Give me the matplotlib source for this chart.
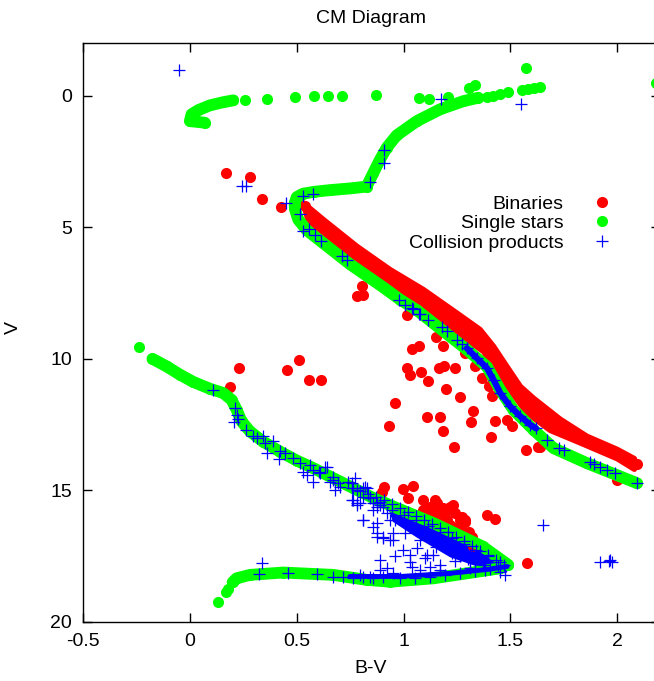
import matplotlib
matplotlib.use("Agg")
import matplotlib.pyplot as plt
from matplotlib.lines import Line2D

plt.rcParams['font.family'] = ['Liberation Sans', 'DejaVu Sans']

RED = '#ff0000'
GREEN = '#00ff00'
BLUE = '#0000ff'

# ---- single stars: dense tracks (band vertices) ----
hook_bv = [0.07, 0.0, 0.008, 0.04, 0.094, 0.156, 0.203]
hook_v = [1.02, 0.96, 0.7, 0.54, 0.36, 0.24, 0.17]

rgb_bv = [1.35, 1.28, 1.171, 1.062, 0.968, 0.921, 0.89, 0.859, 0.827, 0.75, 0.66, 0.58,
          0.53, 0.50, 0.49, 0.492, 0.507, 0.546, 0.624, 0.749, 0.905, 0.984, 1.062,
          1.14, 1.296, 1.39, 1.452, 1.514, 1.608, 1.702, 1.858, 2.092]
rgb_v = [0.07, 0.2, 0.51, 0.96, 1.5, 1.97, 2.42, 2.92, 3.45, 3.52, 3.58, 3.65,
         3.72, 3.85, 4.1, 4.32, 4.7, 5.1, 5.6, 6.4, 7.28, 7.75, 8.15,
         8.65, 9.65, 10.3, 11.18, 11.94, 12.7, 13.4, 13.97, 14.73]

lowms_bv = [-0.175, -0.109, -0.047, 0.016, 0.094, 0.156, 0.195, 0.219, 0.242, 0.281,
            0.343, 0.422, 0.5, 0.578, 0.671, 0.765, 0.859, 0.952, 1.14, 1.37, 1.49]
lowms_v = [10.0, 10.29, 10.6, 10.88, 11.14, 11.3, 11.56, 11.94, 12.38, 12.76,
           13.15, 13.53, 13.87, 14.16, 14.54, 14.92, 15.3, 15.62, 16.25, 17.14, 17.84]

bot_bv = [0.2, 0.219, 0.281, 0.437, 0.671, 0.828, 0.937, 1.14, 1.296, 1.452]
bot_v = [18.5, 18.35, 18.22, 18.13, 18.22, 18.41, 18.48, 18.35, 18.16, 17.97]

# ---- single stars: separate dots ----
single_bv = [-0.239, 0.133, 0.169, 0.18, 0.258, 0.362, 0.492, 0.581, 0.648, 0.712, 0.871,
             1.073, 1.12, 1.208, 1.304, 1.332, 1.39, 1.42, 1.45, 1.49, 1.555, 1.58,
             1.61, 1.64, 1.574, 2.18]
single_v = [9.55, 19.26, 18.86, 18.75, 0.17, 0.11, 0.03, 0.0, 0.0, -0.01, -0.02,
            0.08, 0.11, 0.03, -0.31, -0.4, 0.03, 0.0, -0.06, -0.13, -0.22, -0.27,
            -0.3, -0.33, -1.05, -0.5]

# ---- binaries: dense band (upper and lower edge) ----
redtop_bv = [0.531, 0.624, 0.781, 0.937, 1.093, 1.249, 1.358, 1.421, 1.483, 1.546,
             1.608, 1.733, 1.858, 2.0, 2.08]
redtop_v = [4.07, 4.7, 5.72, 6.61, 7.37, 8.26, 8.89, 9.53, 10.29, 11.05,
            11.5, 12.3, 12.95, 13.45, 13.8]
redbot_bv = [0.539, 0.562, 0.703, 0.859, 1.015, 1.171, 1.296, 1.374, 1.436, 1.499,
             1.577, 1.686, 1.842, 2.0, 2.08]
redbot_v = [4.3, 5.0, 5.9, 6.8, 7.68, 8.56, 9.28, 9.72, 10.45, 11.2,
            12.06, 12.72, 13.25, 13.8, 14.2]

# ---- binaries: separate dots ----
bin_bv = [0.54, 2.09, 0.169, 0.281, 0.339, 0.425, 0.804, 0.784, 0.812, 1.018, 1.152,
          1.038, 1.073, 1.186, 0.231, 0.187, 0.511, 0.453, 0.557, 0.612, 1.015, 1.03,
          1.082, 1.113, 1.168, 1.191, 1.198, 1.241, 1.288, 1.335, 1.366, 1.262, 1.402,
          1.413, 1.327, 1.111, 1.171, 1.315, 1.184, 1.429, 1.483, 1.506, 1.408, 1.237,
          1.574, 1.628, 1.64, 0.962, 0.933, 2.0,
          0.909, 0.898, 0.999, 1.046, 1.022, 1.093, 1.148,
          1.093, 1.124, 1.156, 1.186, 1.21, 1.233, 1.241, 1.273, 1.288, 1.202, 1.171,
          1.14, 1.218, 1.257, 1.304, 1.319, 1.241, 1.327, 1.124, 1.156, 1.186, 1.218,
          1.265, 1.288, 1.249, 1.28, 1.304, 1.39, 1.429, 1.577, 1.467, 1.327]
bin_v = [4.2, 14.0, 2.93, 3.08, 3.94, 4.23, 7.24, 7.6, 7.56, 8.35, 9.17,
         9.62, 9.53, 9.53, 10.35, 11.07, 10.06, 10.41, 10.82, 10.82, 10.35, 10.61,
         10.52, 10.83, 10.35, 10.29, 11.15, 10.35, 9.78, 10.26, 10.73, 11.45, 11.05,
         11.43, 12.0, 12.22, 12.22, 12.42, 12.74, 12.35, 12.32, 12.55, 12.98, 13.36,
         13.46, 13.34, 13.34, 11.68, 12.54, 14.6,
         14.86, 15.05, 14.95, 14.83, 15.3, 15.39, 15.39,
         15.75, 15.81, 15.75, 15.81, 15.75, 15.56, 15.87, 16.0, 16.15, 16.13, 16.0,
         15.94, 16.32, 16.38, 16.57, 16.79, 16.51, 17.08, 15.62, 15.49, 15.68, 15.62,
         16.13, 16.19, 16.44, 16.57, 16.7, 15.94, 16.1, 17.75, 17.85, 17.14]

# ---- collision products: dense bands ----
cband_bv = [1.296, 1.343, 1.39, 1.421, 1.452, 1.499, 1.546, 1.593, 1.62]
cband_v = [9.6, 9.98, 10.35, 10.8, 11.3, 11.81, 12.19, 12.51, 12.65]

cbot_bv = [0.749, 0.984, 1.218, 1.405, 1.485]
cbot_v = [18.28, 18.28, 18.16, 18.0, 17.9]

# solid core of the collision-product wedge (outline)
core_bv = [0.92, 1.062, 1.218, 1.372, 1.485, 1.485, 1.372, 1.218, 1.062, 0.95]
core_v = [15.5, 15.86, 16.43, 17.08, 17.69, 18.12, 17.98, 17.55, 16.8, 16.2]

# ---- collision products: separate points ----
coll_bv = [-0.05, 1.175, 1.549, 0.91, 0.91, 0.843, 0.242, 0.262, 0.45,
           0.531, 0.578, 0.515, 0.531, 0.559, 0.585, 0.612, 0.71, 0.737, 0.98, 1.007,
           1.038, 1.074, 1.116, 1.179, 1.202, 1.046, 1.077, 1.249, 1.273,
           1.671, 1.725, 1.749, 1.874, 1.889, 1.92, 1.952, 1.991, 2.092, 1.652,
           1.92, 1.96, 1.967, 1.975,
           0.109, 0.211, 0.219, 0.226, 0.206, 0.265, 0.296, 0.312, 0.343, 0.387, 0.351,
           0.359, 0.422, 0.445, 0.418, 0.484, 0.515, 0.528, 0.562, 0.578, 0.606, 0.632,
           0.578, 0.671, 0.679, 0.703, 0.741, 0.773, 0.765, 0.757, 0.781, 0.828, 0.812,
           0.843, 0.859, 0.89, 0.874, 0.546, 0.609, 0.64, 0.671, 0.695, 0.656, 0.82,
           0.781, 0.812, 0.859, 0.874, 0.905, 0.937, 0.952,
           0.759, 0.796, 0.834, 0.871, 0.909, 0.946, 0.984, 1.021, 1.059, 1.096, 1.133,
           1.171, 1.208, 1.246, 1.283, 1.321, 1.358, 1.396, 1.433, 1.471,
           0.89, 0.946, 1.002, 1.059, 1.115, 1.171, 1.227, 1.283, 1.34, 1.396, 1.452,
           0.96, 1.03, 1.101, 1.171, 1.241, 1.311, 1.382, 1.443,
           1.007, 1.077, 1.152, 1.227, 1.302, 1.377,
           0.89, 0.96, 1.03, 1.101, 1.171, 1.241, 1.311, 1.382, 1.452, 1.475,
           0.336, 0.325, 0.46, 0.593, 0.671, 0.718, 0.765, 0.812, 0.859, 0.905, 0.984,
           1.054, 1.124, 1.194, 1.265, 1.335, 1.405,
           0.796, 0.843, 0.89, 0.921, 0.952, 1.038, 1.077, 1.124, 1.171,
           0.812, 0.874, 0.874, 0.905, 0.952, 0.999, 1.03, 1.062, 1.109, 1.14, 1.218,
           1.265, 1.311, 1.374,
           0.757, 0.781, 0.812, 0.765, 0.796, 0.843, 0.874, 0.905, 0.859, 0.921, 0.937]
coll_v = [-1.0, 0.1, 0.3, 2.04, 2.57, 3.28, 3.41, 3.41, 4.07,
          3.82, 3.75, 4.51, 5.15, 5.06, 5.31, 5.53, 6.1, 6.23, 7.75, 7.94,
          8.05, 8.3, 8.52, 8.8, 8.96, 8.1, 8.3, 9.3, 9.45,
          13.08, 13.4, 13.46, 13.91, 14.0, 14.1, 14.22, 14.35, 14.73, 16.32,
          17.72, 17.69, 17.65, 17.72,
          11.2, 11.87, 12.13, 12.29, 12.42, 12.7, 12.93, 13.02, 12.93, 13.11, 13.21,
          13.59, 13.49, 13.59, 13.82, 13.78, 13.97, 14.29, 14.03, 14.22, 14.29, 14.1,
          14.67, 14.6, 14.98, 14.86, 14.67, 14.54, 14.92, 15.37, 15.56, 14.92, 15.24,
          15.3, 15.49, 15.43, 15.62, 14.41, 14.35, 14.1, 14.48, 14.73, 14.67, 14.86,
          15.49, 16.13, 16.38, 16.76, 16.83, 16.89, 16.63,
          14.91, 15.02, 15.14, 15.25, 15.36, 15.52, 15.67, 15.82, 15.98, 16.13, 16.28,
          16.43, 16.59, 16.78, 16.93, 17.12, 17.31, 17.46, 17.65, 17.84,
          15.56, 15.75, 15.94, 16.13, 16.36, 16.59, 16.81, 17.04, 17.27, 17.5, 17.72,
          16.13, 16.39, 16.66, 16.93, 17.19, 17.46, 17.69, 17.88,
          16.62, 16.89, 17.16, 17.38, 17.61, 17.84,
          17.65, 17.5, 17.73, 17.57, 17.84, 17.69, 17.96, 18.03, 18.11, 18.22,
          17.78, 18.18, 18.13, 18.18, 18.29, 18.29, 18.35, 18.29, 18.35, 18.29, 18.35,
          18.34, 18.3, 18.22, 18.15, 18.07, 17.99,
          18.22, 18.29, 18.03, 17.97, 18.16, 17.91, 18.03, 17.91, 18.03,
          16.13, 16.25, 16.63, 16.76, 16.89, 17.27, 17.46, 17.2, 17.46, 17.46, 17.27,
          17.52, 17.65, 17.72,
          14.73, 14.98, 14.92, 15.37, 15.49, 15.24, 15.49, 15.62, 15.75, 15.87, 16.13]

MS = 8     # marker size (points)
LW = 8.5   # width of the dense tracks
FS = 14

fig = plt.figure(figsize=(6.54, 6.81), dpi=100)
ax = fig.add_axes([0.1269, 0.0871, 0.8823, 0.8493])

# binaries
ax.fill(redtop_bv + redbot_bv[::-1], redtop_v + redbot_v[::-1], color=RED, lw=4,
        joinstyle='round')
ax.plot(bin_bv, bin_v, 'o', color=RED, ms=MS, mew=0, ls='none')

# single stars
for bx, by in [(hook_bv, hook_v), (rgb_bv, rgb_v), (lowms_bv, lowms_v), (bot_bv, bot_v)]:
    ax.plot(bx, by, '-o', color=GREEN, lw=LW, ms=MS, mew=0,
            solid_capstyle='round', solid_joinstyle='round')
ax.plot(single_bv, single_v, 'o', color=GREEN, ms=MS, mew=0, ls='none')

# collision products
ax.fill(core_bv, core_v, color=BLUE, lw=0)
ax.plot(cband_bv, cband_v, '-+', color=BLUE, lw=4.5, ms=MS, mew=0.9,
        solid_capstyle='round')
ax.plot(cbot_bv, cbot_v, '-', color=BLUE, lw=3.5, solid_capstyle='round')
ax.plot(coll_bv, coll_v, '+', color=BLUE, ms=MS, mew=0.9, ls='none')

ax.set_xlim(-0.5, 2.2)
ax.set_ylim(20, -2)
ax.set_xticks([-0.5, 0, 0.5, 1, 1.5, 2])
ax.set_xticklabels(['-0.5', '0', '0.5', '1', '1.5', '2'])
ax.set_yticks([0, 5, 10, 15, 20])
ax.tick_params(direction='in', length=6.5, width=1, top=True, right=True,
               labelsize=FS, pad=8)
for s in ax.spines.values():
    s.set_linewidth(1)

fig.text(371 / 654, 1 - 23 / 681, 'CM Diagram', ha='center', va='baseline', fontsize=FS)
fig.text(371 / 654, 1 - 673 / 681, 'B-V', ha='center', va='baseline', fontsize=FS)
fig.text(13 / 654, 1 - 328 / 681, 'V', ha='center', va='center', fontsize=FS, rotation=90)

handles = [Line2D([], [], ls='none', marker='o', color=RED, ms=MS, mew=0),
           Line2D([], [], ls='none', marker='o', color=GREEN, ms=MS, mew=0),
           Line2D([], [], ls='none', marker='+', color=BLUE, ms=MS, mew=0.9)]
ax.legend(handles, ['Binaries', 'Single stars', 'Collision products'],
          markerfirst=False, frameon=False, fontsize=FS, loc='upper right',
          bbox_to_anchor=(612 / 654, 1 - 195 / 681), bbox_transform=fig.transFigure,
          borderaxespad=0, borderpad=0, handlelength=1.0, handletextpad=1.5,
          labelspacing=0.1)

fig.savefig('out.png', dpi=100)
